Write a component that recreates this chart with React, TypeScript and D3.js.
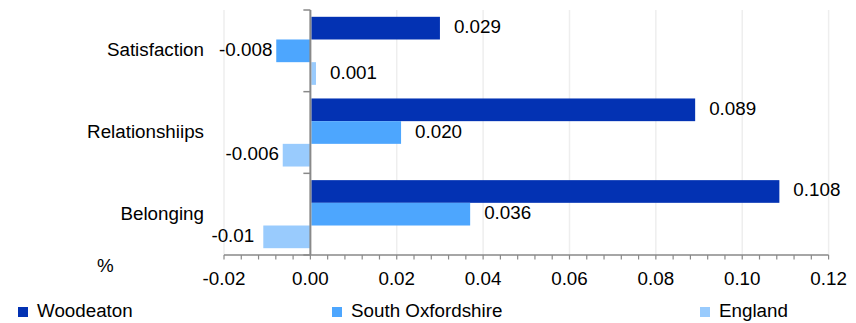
import React from "react";
import * as d3 from "d3";

const categories = ["Satisfaction", "Relationshiips", "Belonging"];
const series = ["Woodeaton", "South Oxfordshire", "England"];
const woodeaton = [0.030, 0.0891, 0.1086];
const southOxfordshire = [-0.0079, 0.021, 0.037];
const england = [0.0013, -0.0064, -0.0109];
const woodeatonLabels = ["0.029", "0.089", "0.108"];
const southOxfordshireLabels = ["-0.008", "0.020", "0.036"];
const englandLabels = ["0.001", "-0.006", "-0.01"];
const xTicks = [-0.02, 0, 0.02, 0.04, 0.06, 0.08, 0.1, 0.12];
const xTickLabels = ["-0.02", "0.00", "0.02", "0.04", "0.06", "0.08", "0.10", "0.12"];
const colors = ["#0332B3", "#4DA6FE", "#99CBFD"];

const W = 856;
const H = 323;
const FONT = "'Liberation Sans', Arial, sans-serif";
const FS = 18.8;

export default function App() {
  const x = d3.scaleLinear().domain([-0.02, 0.12]).range([224, 828.6]);
  const y0 = d3
    .scaleBand<string>()
    .domain(categories)
    .range([10, 255])
    .paddingInner(1 / 6)
    .paddingOuter(1 / 12);
  const y1 = d3.scaleBand<string>().domain(series).range([0, y0.bandwidth()]);
  const step = y0.step();
  const values = [woodeaton, southOxfordshire, england];
  const labels = [woodeatonLabels, southOxfordshireLabels, englandLabels];
  const minorTicks = d3.range(0, 36).map((i) => -0.02 + i * 0.004);
  const axisColor = "#898989";
  const x0 = x(0);
  const legendX = [18, 332, 700];

  return (
    <svg
      width={W}
      height={H}
      style={{ position: "absolute", left: 0, top: 0, background: "#fff" }}
      fontFamily={FONT}
    >
      {/* gridlines */}
      {xTicks.map((t) => (
        <line key={"g" + t} x1={x(t)} x2={x(t)} y1={10} y2={255} stroke="#EEEEEE" strokeWidth={1.5} />
      ))}
      {/* bars */}
      {categories.map((c, ci) =>
        series.map((s, si) => {
          const v = values[si][ci];
          const yTop = (y0(c) as number) + (y1(s) as number);
          const h = y1.bandwidth();
          const xa = v >= 0 ? x0 + 1 : x(v);
          const xb = v >= 0 ? x(v) : x0;
          const cy = yTop + h / 2;
          return (
            <g key={c + s}>
              <rect x={xa} y={yTop} width={xb - xa} height={h} fill={colors[si]} />
              <text
                x={v >= 0 ? x(v) + 37.5 : x(v) - 30.5}
                y={cy + 5}
                textAnchor="middle"
                fontSize={FS}
                fill="#000"
              >
                {labels[si][ci]}
              </text>
            </g>
          );
        })
      )}
      {/* y axis */}
      <line x1={x0} x2={x0} y1={10} y2={255} stroke={axisColor} strokeWidth={2} />
      {d3.range(0, categories.length + 1).map((i) => (
        <line key={"yt" + i} x1={x0 - 7} x2={x0} y1={10 + i * step} y2={10 + i * step} stroke={axisColor} strokeWidth={1.5} />
      ))}
      {categories.map((c) => (
        <text
          key={"cl" + c}
          x={204}
          y={(y0(c) as number) + y0.bandwidth() / 2 + 5.5}
          textAnchor="end"
          fontSize={FS}
          fill="#000"
        >
          {c}
        </text>
      ))}
      {/* x axis */}
      <line x1={x(-0.02)} x2={x(0.12)} y1={255} y2={255} stroke={axisColor} strokeWidth={1.5} />
      {minorTicks.map((t, i) => (
        <line key={"mt" + i} x1={x(t)} x2={x(t)} y1={255} y2={259.5} stroke={axisColor} strokeWidth={1.2} />
      ))}
      {xTicks.map((t, i) => (
        <text key={"xl" + t} x={x(t)} y={285} textAnchor="middle" fontSize={FS} fill="#000">
          {xTickLabels[i]}
        </text>
      ))}
      <text x={97} y={271.5} fontSize={FS} fill="#000">
        %
      </text>
      {/* legend */}
      {series.map((s, i) => (
        <g key={"lg" + s}>
          <rect x={legendX[i]} y={307} width={10} height={10} fill={colors[i]} />
          <text x={legendX[i] + 19} y={316.5} fontSize={FS} fill="#000">
            {s}
          </text>
        </g>
      ))}
    </svg>
  );
}
